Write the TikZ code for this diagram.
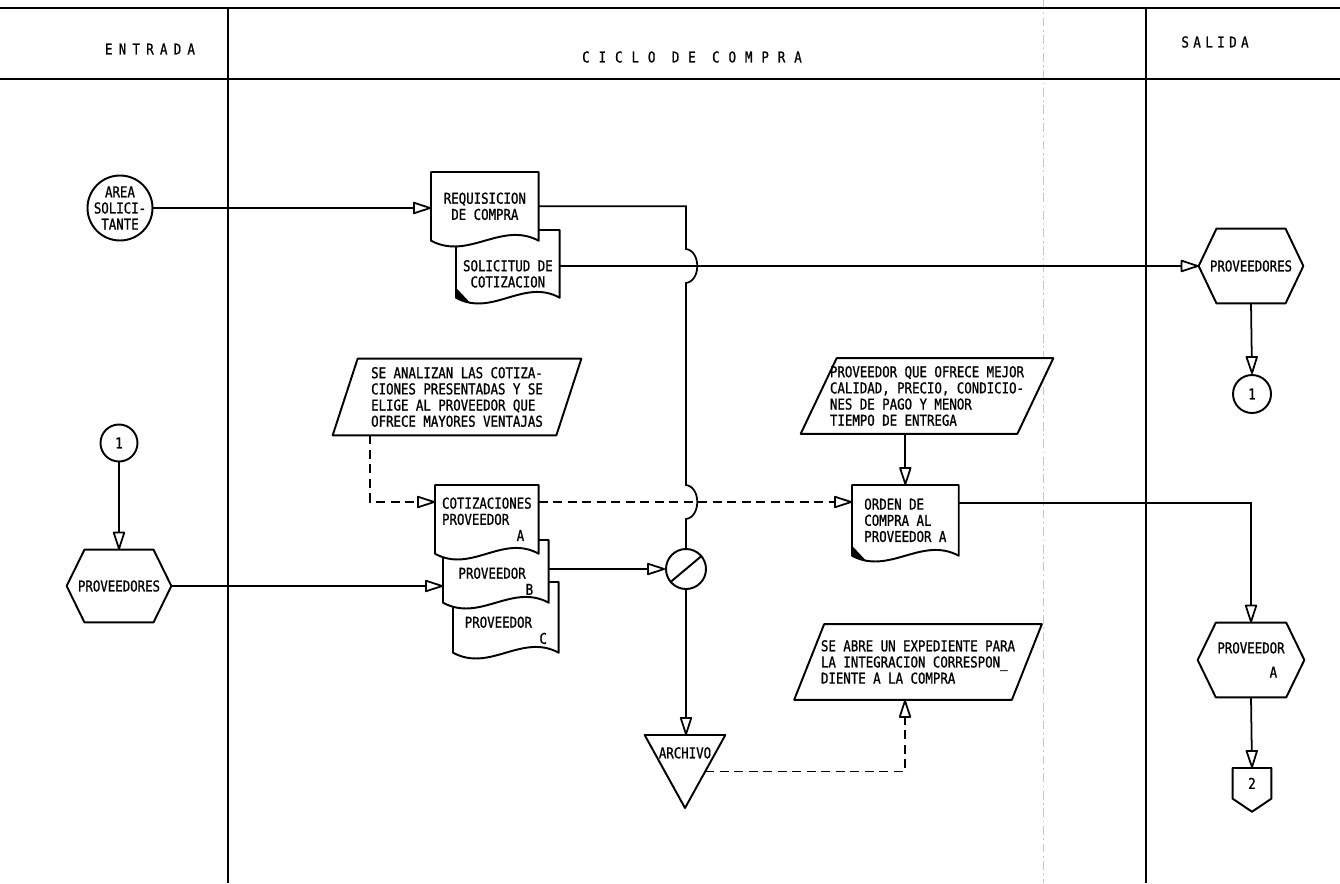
\documentclass[tikz,border=0pt]{standalone}
\usepackage{fontspec}
\setmainfont{DejaVu Sans Mono}[FakeStretch=0.83,FakeBold=1]
\usetikzlibrary{arrows.meta,calc,backgrounds}
\tikzset{
  fline/.style={line width=1pt},
  farr/.style={fline,-{Triangle[open,round,length=4mm,width=2.5mm]}},
  fdash/.style={farr,dash pattern=on 1.8mm off 1.1mm},
  fshape/.style={line width=1.1pt,fill=white,line join=round},
  fnode/.style={inner sep=0pt,align=center},
  fdoc/.style={fnode,anchor=north west},
  fcirc/.style={fnode,circle,draw,line width=1.1pt},
  lane/.style={line width=1pt},
  rule/.style={line width=1.7pt},
  faint/.style={gray!45,line width=0.4pt,dash pattern=on 5pt off 2pt on 1pt off 2pt},
  hdr/.style={inner sep=0pt}
}
\newcommand\docline[2]{%
  \draw[fshape] (#1.south west) -- ($(#1.north west)+(0,-#2)$) -- ($(#1.north east)+(0,-#2)$) -- (#1.south east)
    .. controls ($(#1.south east)!0.35!(#1.south west)+(0,-20)$) and ($(#1.south east)!0.65!(#1.south west)+(0,20)$) .. (#1.south west) -- cycle;}
\newcommand\docmark[1]{%
  \fill ($(#1.south west)+(0,-10)$) -- (#1.south west) -- ($(#1.south west)+(15,6)$) -- cycle;}
\newcommand\hexline[1]{%
  \draw[fshape] (#1.west) -- ($(#1.north west)!0.17!(#1.north east)$) -- ($(#1.north west)!0.83!(#1.north east)$)
    -- (#1.east) -- ($(#1.south west)!0.83!(#1.south east)$) -- ($(#1.south west)!0.17!(#1.south east)$) -- cycle;}
\newcommand\slantline[2]{%
  \draw[fshape] ($(#1.south west)+(-#2/2,0)$) -- ($(#1.north west)+(#2/2,0)$) -- ($(#1.north east)+(#2/2,0)$) -- ($(#1.south east)+(-#2/2,0)$) -- cycle;}
\begin{document}
\begin{tikzpicture}[x=0.2mm,y=-0.2mm,font=\fontsize{8.5}{9.2}\selectfont]
  \useasboundingbox (0,0) rectangle (1340,883);
  \draw[rule] (0,8) -- (1340,8);
  \draw[rule] (0,79) -- (1340,79);
  \draw[lane] (228,8) -- (228,883);
  \draw[lane] (1146,8) -- (1146,883);
  \node[hdr] (hin) at (150,49) {\addfontfeature{LetterSpace=42}ENTRADA};
  \node[hdr] (hmid) at (692,57) {\addfontfeature{LetterSpace=60}CICLO DE COMPRA};
  \node[hdr] (hout) at (1215,42) {\addfontfeature{LetterSpace=30}SALIDA};

  \node[fcirc,inner sep=-0.6mm,minimum size=13mm] (area) at (120,208) {AREA\\SOLICI-\\TANTE};
  \node[fcirc,minimum size=7.4mm] (c1l) at (119,443) {1};
  \node[fnode,minimum width=20.8mm,minimum height=14.4mm] (prov2) at (119,586) {PROVEEDORES};

  \node[fdoc,minimum width=20.6mm,minimum height=9.4mm] (sol) at (456,250) {SOLICITUD DE\\COTIZACION};
  \node[fdoc,minimum width=21.4mm,minimum height=13.6mm] (req) at (431,172) {REQUISICION\\DE COMPRA};
  \node[fnode,align=left,minimum width=44.6mm,minimum height=15.2mm] (nota1) at (457,397) {SE ANALIZAN LAS COTIZA-\\CIONES PRESENTADAS Y SE\\ELIGE AL PROVEEDOR QUE\\OFRECE MAYORES VENTAJAS};
  \node[fdoc,align=left,minimum width=21mm,minimum height=8.8mm] (provc) at (453,608) {PROVEEDOR\\\phantom{PROVEEDORX}C};
  \node[fdoc,align=left,minimum width=21mm,minimum height=8.4mm] (provb) at (443,560) {PROVEEDOR\\\phantom{PROVEEDOR}B};
  \node[fdoc,align=left,minimum width=20.6mm,minimum height=13.6mm] (cot) at (435,485) {COTIZACIONES\\PROVEEDOR\\\phantom{COTIZACION}A};
  \node[fcirc,minimum size=8mm] (chk) at (686,569) {};
  \node[fnode,anchor=north,minimum width=16mm,minimum height=7mm] (arch) at (685,735) {ARCHIVO};
  \node[fnode,align=left,minimum width=43.2mm,minimum height=15mm] (nota2) at (927,396) {PROVEEDOR QUE OFRECE MEJOR\\CALIDAD, PRECIO, CONDICIO-\\NES DE PAGO Y MENOR\\TIEMPO DE ENTREGA};
  \node[fdoc,align=left,minimum width=21.2mm,minimum height=14mm] (orden) at (852,485) {ORDEN DE\\COMPRA AL\\PROVEEDOR A};
  \node[fnode,align=left,minimum width=43.4mm,minimum height=15mm] (nota3) at (918,662) {SE ABRE UN EXPEDIENTE PARA\\LA INTEGRACION CORRESPON\_\\DIENTE A LA COMPRA};

  \node[fnode,minimum width=20.8mm,minimum height=14.8mm] (prov1) at (1251,266) {PROVEEDORES};
  \node[fcirc,minimum size=7.6mm] (c1r) at (1252,394) {1};
  \node[fnode,align=left,minimum width=21.2mm,minimum height=14.8mm] (provA) at (1251,660) {PROVEEDOR\\[1.6mm]\phantom{PROVEED}A};
  \node[fnode,anchor=north,minimum width=7.6mm,minimum height=6mm] (off2) at (1252,768) {2};

  \coordinate (archtip) at ($(arch.north)+(0,73)$);
  \coordinate (archr) at ($(arch.north east)!0.5!(archtip)$);
  \coordinate (off2tip) at ($(off2.south)+(0,13)$);
  \coordinate (solout) at ($(sol.north east)+(0,16)$);
  \coordinate (cotout) at ($(cot.north east)+(0,17)$);
  \coordinate (hopA) at (chk.north |- solout);
  \coordinate (hopB) at (chk.north |- cotout);

  \begin{scope}[on background layer]
    \draw[faint] (1043,0) -- (1043,883);
    \docline{sol}{20} \docmark{sol}
    \docline{req}{0}
    \docline{provc}{26}
    \docline{provb}{20}
    \docline{cot}{0}
    \docline{orden}{0} \docmark{orden}
    \hexline{prov1} \hexline{prov2} \hexline{provA}
    \slantline{nota1}{25} \slantline{nota2}{36} \slantline{nota3}{30}
    \draw[fshape] (arch.north west) -- (arch.north east) -- (archtip) -- cycle;
    \draw[fshape] (off2.north west) -- (off2.north east) -- (off2.south east) -- (off2tip) -- (off2.south west) -- cycle;
  \end{scope}

  \draw[line width=1.1pt] (chk.220) -- (chk.40);
  \draw[farr] (area.east) -- (area.east -| req.west);
  \draw[fline] (req.east) -| ($(hopA)+(0,-17)$)
    .. controls ($(hopA)+(15,-15)$) and ($(hopA)+(15,15)$) .. ($(hopA)+(0,17)$) -- ($(hopB)+(0,-17)$)
    .. controls ($(hopB)+(15,-15)$) and ($(hopB)+(15,15)$) .. ($(hopB)+(0,17)$) -- (chk.north);
  \draw[farr] (solout) -- (solout -| prov1.west);
  \draw[farr] (prov1.south) -- (c1r.north);
  \draw[farr] (c1l.south) -- (c1l.south |- prov2.north);
  \draw[farr] (prov2.east) -- (prov2.east -| provb.west);
  \draw[fdash] ($(nota1.south west)+(25,0)$) |- ($(cot.north west)+(0,17)$);
  \draw[fdash] (cotout) -- (cotout -| orden.west);
  \draw[farr] (chk.west -| provb.east) -- (chk.west);
  \draw[farr] (chk.south) -- (chk.south |- arch.north);
  \draw[farr] (nota2.south -| orden.north) -- (orden.north);
  \draw[farr] ($(orden.north east)+(0,18)$) -| (provA.north);
  \draw[farr] (provA.south) -- (off2.north);
  \draw[fdash] (archr) -| ($(nota3.south)+(-13,0)$);
\end{tikzpicture}
\end{document}
